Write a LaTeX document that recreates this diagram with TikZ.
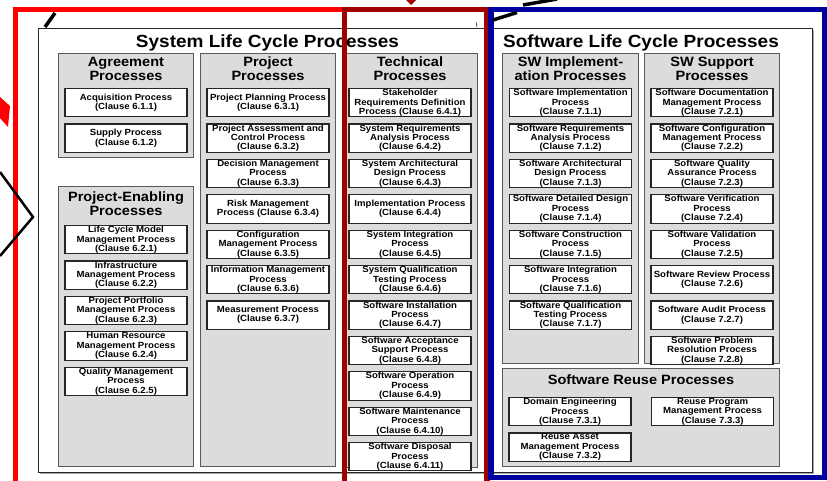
\documentclass[tikz,border=0pt]{standalone}
\usepackage{fontspec}
\usepackage{tikz}
\usetikzlibrary{positioning}
\newfontfamily\diagfont{Liberation Sans}[FakeStretch=1.08]
\definecolor{groupgray}{RGB}{220,220,220}
\definecolor{framered}{RGB}{255,0,0}
\definecolor{framedarkred}{RGB}{160,0,0}
\definecolor{frameblue}{RGB}{0,0,160}
\newcommand{\procfont}{\diagfont\bfseries\fontsize{8.9}{9.4}\selectfont}
\newcommand{\groupfont}{\diagfont\bfseries\fontsize{13.5}{14}\selectfont}
\newcommand{\lcfont}{\diagfont\bfseries\fontsize{17.6}{18}\selectfont}

\begin{document}
\begin{tikzpicture}[
  x=1pt, y=-1pt,
  proc/.style={draw=black!85, line width=1.1pt, fill=white,
               minimum width=122pt, minimum height=28.3pt,
               inner sep=0pt, align=center, font=\procfont},
  group/.style={draw=black!65, line width=1pt, fill=groupgray,
                anchor=north west, inner sep=0pt, minimum width=135pt},
  grouptitle/.style={anchor=north, inner sep=0pt, align=center, font=\groupfont},
  lcbox/.style={draw=black!85, line width=1pt, fill=white},
  lctitle/.style={anchor=base, inner sep=0pt, font=\lcfont},
  frame/.style={line width=5.5pt},
  blackmark/.style={line width=3.5pt},
]
\useasboundingbox (0,0) rectangle (827,480);

% outer boxes
\fill[black!35] (39.5,29.5) rectangle (490.5,473.5);
\draw[lcbox] (38,28) rectangle (489,472);
\fill[black!35] (492.5,29.5) rectangle (813.5,473.5);
\draw[lcbox] (491,28) rectangle (812,472);
\node[lctitle] (systitle) at (267.5,47) {System Life Cycle Processes};
\node[lctitle] (swtitle)  at (641,47)   {Software Life Cycle Processes};

% system groups
\node[group, minimum height=104pt] (agr) at (58,53) {};
\node[group, minimum height=280pt] (pen) at (58,186) {};
\node[group, minimum height=413pt] (prj) at (200,53) {};
\node[group, minimum height=414pt] (tec) at (342,53) {};
\node[grouptitle] at ([yshift=-4pt]agr.north) {Agreement\\Processes};
\node[grouptitle] at ([yshift=-5.5pt]pen.north) {Project-Enabling\\Processes};
\node[grouptitle] at ([yshift=-4pt]prj.north) {Project\\Processes};
\node[grouptitle] at ([yshift=-4pt]tec.north) {Technical\\Processes};

% software groups
\node[group, minimum width=136pt, minimum height=310pt] (imp) at (502,53) {};
\node[group, minimum height=310pt] (sup) at (644,53) {};
\node[group, minimum width=277pt, minimum height=98pt] (reu) at (502,368) {};
\node[grouptitle] at ([yshift=-4pt]imp.north) {SW Implement-\\ation Processes};
\node[grouptitle] at ([yshift=-4pt]sup.north) {SW Support\\Processes};
\node[grouptitle] at ([yshift=-7pt]reu.north) {Software Reuse Processes};

% agreement
\node[proc, below=35pt of agr.north] (acq) {Acquisition Process\\(Clause 6.1.1)};
\node[proc, below=6pt of acq] (sply) {Supply Process\\(Clause 6.1.2)};

% project-enabling
\node[proc, below=39pt of pen.north] (lcm) {Life Cycle Model\\Management Process\\(Clause 6.2.1)};
\node[proc, below=6pt of lcm]  (infra) {Infrastructure\\Management Process\\(Clause 6.2.2)};
\node[proc, below=6pt of infra] (ppm) {Project Portfolio\\Management Process\\(Clause 6.2.3)};
\node[proc, below=6pt of ppm]  (hrm) {Human Resource\\Management Process\\(Clause 6.2.4)};
\node[proc, below=6pt of hrm]  (qm)  {Quality Management\\Process\\(Clause 6.2.5)};

% project
\node[proc, below=35pt of prj.north] (plan) {Project Planning Process\\(Clause 6.3.1)};
\node[proc, below=6pt of plan] (assess) {Project Assessment and\\Control Process\\(Clause 6.3.2)};
\node[proc, below=6pt of assess] (dec) {Decision Management\\Process\\(Clause 6.3.3)};
\node[proc, below=6pt of dec]  (risk) {Risk Management\\Process (Clause 6.3.4)};
\node[proc, below=6pt of risk] (conf) {Configuration\\Management Process\\(Clause 6.3.5)};
\node[proc, below=6pt of conf] (info) {Information Management\\Process\\(Clause 6.3.6)};
\node[proc, below=6pt of info] (meas) {Measurement Process\\(Clause 6.3.7)};

% technical
\node[proc, below=35pt of tec.north] (stake) {Stakeholder\\Requirements Definition\\Process (Clause 6.4.1)};
\node[proc, below=6pt of stake] (sysreq) {System Requirements\\Analysis Process\\(Clause 6.4.2)};
\node[proc, below=6pt of sysreq] (sysarch) {System Architectural\\Design Process\\(Clause 6.4.3)};
\node[proc, below=6pt of sysarch] (impl) {Implementation Process\\(Clause 6.4.4)};
\node[proc, below=6pt of impl] (sysint) {System Integration\\Process\\(Clause 6.4.5)};
\node[proc, below=6pt of sysint] (sysqual) {System Qualification\\Testing Process\\(Clause 6.4.6)};
\node[proc, below=6pt of sysqual] (inst) {Software Installation\\Process\\(Clause 6.4.7)};
\node[proc, below=6pt of inst] (accept) {Software Acceptance\\Support Process\\(Clause 6.4.8)};
\node[proc, below=6pt of accept] (oper) {Software Operation\\Process\\(Clause 6.4.9)};
\node[proc, below=6pt of oper] (maint) {Software Maintenance\\Process\\(Clause 6.4.10)};
\node[proc, below=6pt of maint] (disp) {Software Disposal\\Process\\(Clause 6.4.11)};

% sw implementation
\node[proc, below=35pt of imp.north] (swimpl) {Software Implementation\\Process\\(Clause 7.1.1)};
\node[proc, below=6pt of swimpl] (swreq) {Software Requirements\\Analysis Process\\(Clause 7.1.2)};
\node[proc, below=6pt of swreq] (swarch) {Software Architectural\\Design Process\\(Clause 7.1.3)};
\node[proc, below=6pt of swarch] (swdet) {Software Detailed Design\\Process\\(Clause 7.1.4)};
\node[proc, below=6pt of swdet] (swcons) {Software Construction\\Process\\(Clause 7.1.5)};
\node[proc, below=6pt of swcons] (swint) {Software Integration\\Process\\(Clause 7.1.6)};
\node[proc, below=6pt of swint] (swqual) {Software Qualification\\Testing Process\\(Clause 7.1.7)};

% sw support
\node[proc, below=35pt of sup.north] (swdoc) {Software Documentation\\Management Process\\(Clause 7.2.1)};
\node[proc, below=6pt of swdoc] (swconf) {Software Configuration\\Management Process\\(Clause 7.2.2)};
\node[proc, below=6pt of swconf] (swqa) {Software Quality\\Assurance Process\\(Clause 7.2.3)};
\node[proc, below=6pt of swqa] (swver) {Software Verification\\Process\\(Clause 7.2.4)};
\node[proc, below=6pt of swver] (swval) {Software Validation\\Process\\(Clause 7.2.5)};
\node[proc, below=6pt of swval] (swrev) {Software Review Process\\(Clause 7.2.6)};
\node[proc, below=6pt of swrev] (swaud) {Software Audit Process\\(Clause 7.2.7)};
\node[proc, below=6pt of swaud] (swprob) {Software Problem\\Resolution Process\\(Clause 7.2.8)};

% reuse
\node[proc, anchor=north] (dom) at (570,397) {Domain Engineering\\Process\\(Clause 7.3.1)};
\node[proc, below=6pt of dom] (asset) {Reuse Asset\\Management Process\\(Clause 7.3.2)};
\node[proc, right=19.5pt of dom] (rprog) {Reuse Program\\Management Process\\(Clause 7.3.3)};

% overlay marks
\draw[frame, framered] (15.5,490) -- (15.5,9.5) -- (346,9.5);
\draw[frame, framedarkred] (344.5,490) -- (344.5,9.5) -- (487,9.5) -- (487,490);
\draw[frame, frameblue] (491,9.5) rectangle (824.5,477.5);
\fill[framered] (0,97) -- (10,106) -- (8,127) -- (0,118) -- cycle;
\fill[framedarkred] (406,0) -- (416,0) -- (411,5) -- cycle;
\draw[line width=2.5pt] (0,172) -- (33,217) -- (0,256);
\draw[blackmark] (45,27) -- (55,13);
\draw[blackmark] (493,20) -- (517,12.5);
\draw[blackmark] (523,5) -- (557,-1);
\draw[line width=0.5pt] (476,22) -- (477,27);
\end{tikzpicture}
\end{document}
